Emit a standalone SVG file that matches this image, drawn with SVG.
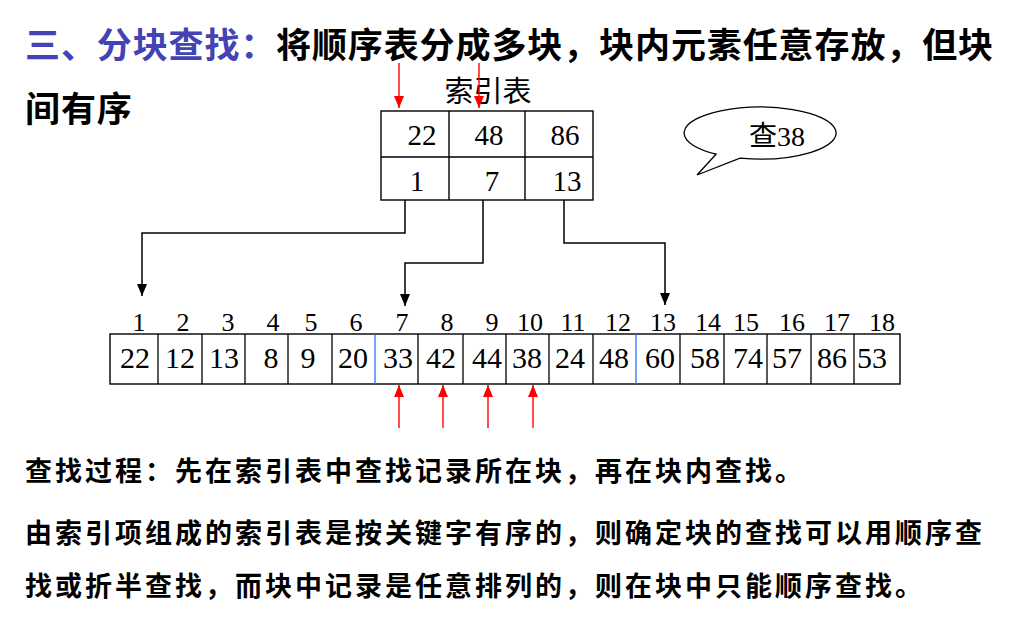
<svg xmlns="http://www.w3.org/2000/svg" width="1024" height="622" viewBox="0 0 1024 622">
<defs>
<marker id="ab" markerUnits="userSpaceOnUse" markerWidth="12" markerHeight="10" viewBox="0 0 12 10" refX="12" refY="5" orient="auto"><path d="M0,0 L12,5 L0,10 Z" fill="#000"/></marker>
<marker id="ar" markerUnits="userSpaceOnUse" markerWidth="12" markerHeight="10" viewBox="0 0 12 10" refX="12" refY="5" orient="auto"><path d="M0,0 L12,5 L0,10 Z" fill="#f00"/></marker>
<style>
.ttl{font-family:"Noto Sans CJK SC","Noto Sans",sans-serif;font-weight:bold;font-size:35px;letter-spacing:0.9px}
.body{font-family:"Noto Sans CJK SC","Noto Sans",sans-serif;font-weight:bold;font-size:27px;letter-spacing:3px;fill:#000}
.num{font-family:"Liberation Serif","Noto Sans CJK SC",serif;text-anchor:middle;fill:#000}
.cell{fill:#fff;stroke:#000;stroke-width:1.4}
.conn{fill:none;stroke:#000;stroke-width:1.5}
.red{fill:none;stroke:#f00;stroke-width:1.4}
</style>
</defs>
<rect width="1024" height="622" fill="#fff"/>

<g id="title">
<text class="ttl" x="25" y="58" fill="#4343B5">三、分块查找：</text>
<text class="ttl" x="276" y="58" fill="#000">将顺序表分成多块，块内元素任意存放，但块</text>
<text class="ttl" x="25" y="122" fill="#000">间有序</text>
</g>

<g id="index-table">
<text x="488" y="102" font-family="'Noto Sans CJK SC',sans-serif" font-size="29" text-anchor="middle" fill="#000">索引表</text>
<rect class="cell" x="381" y="111" width="212" height="89"/>
<line x1="381" y1="157" x2="593" y2="157" stroke="#000" stroke-width="1.4"/>
<line x1="449" y1="111" x2="449" y2="200" stroke="#000" stroke-width="1.4"/>
<line x1="525" y1="111" x2="525" y2="200" stroke="#000" stroke-width="1.4"/>
<g class="num" font-size="29">
<text x="422" y="145">22</text><text x="489" y="145">48</text><text x="565" y="145">86</text>
<text x="417" y="191">1</text><text x="492" y="191">7</text><text x="567" y="191">13</text>
</g>
</g>

<g id="bubble">
<path d="M716,154.2 L697,175 L740,158.1 A76,26 0 1 0 716,154.2 Z" fill="#fff" stroke="#000" stroke-width="1.3"/>
<text x="777" y="146" font-family="'Liberation Serif','Noto Sans CJK SC',serif" font-size="28" text-anchor="middle" fill="#000">查38</text>
</g>

<g id="array">
<rect class="cell" x="110" y="334" width="790" height="50"/>
<g stroke="#000" stroke-width="1.3">
<line x1="158" y1="334" x2="158" y2="384"/><line x1="202" y1="334" x2="202" y2="384"/>
<line x1="245" y1="334" x2="245" y2="384"/><line x1="288" y1="334" x2="288" y2="384"/>
<line x1="332" y1="334" x2="332" y2="384"/>
<line x1="418" y1="334" x2="418" y2="384"/><line x1="463" y1="334" x2="463" y2="384"/>
<line x1="506" y1="334" x2="506" y2="384"/><line x1="549" y1="334" x2="549" y2="384"/>
<line x1="593" y1="334" x2="593" y2="384"/>
<line x1="680" y1="334" x2="680" y2="384"/><line x1="724" y1="334" x2="724" y2="384"/>
<line x1="767" y1="334" x2="767" y2="384"/><line x1="811" y1="334" x2="811" y2="384"/>
<line x1="854" y1="334" x2="854" y2="384"/>
</g>
<g stroke="#3070f0" stroke-width="1.3">
<line x1="375" y1="334" x2="375" y2="384"/><line x1="636" y1="334" x2="636" y2="384"/>
</g>
<g class="num" font-size="30">
<text x="135" y="368">22</text><text x="180" y="368">12</text><text x="224" y="368">13</text>
<text x="271" y="368">8</text><text x="308" y="368">9</text><text x="353" y="368">20</text>
<text x="398" y="368">33</text><text x="441" y="368">42</text><text x="487" y="368">44</text>
<text x="527" y="368">38</text><text x="570" y="368">24</text><text x="614" y="368">48</text>
<text x="660" y="368">60</text><text x="705" y="368">58</text><text x="748" y="368">74</text>
<text x="787" y="368">57</text><text x="832" y="368">86</text><text x="872" y="368">53</text>
</g>
<g class="num" font-size="26">
<text x="139" y="331">1</text><text x="183" y="331">2</text><text x="228" y="331">3</text>
<text x="273" y="331">4</text><text x="311" y="331">5</text><text x="356" y="331">6</text>
<text x="402" y="331">7</text><text x="447" y="331">8</text><text x="492" y="331">9</text>
<text x="530" y="331">10</text><text x="573" y="331">11</text><text x="618" y="331">12</text>
<text x="663" y="331">13</text><text x="708" y="331">14</text><text x="746" y="331">15</text>
<text x="792" y="331">16</text><text x="837" y="331">17</text><text x="882" y="331">18</text>
</g>
</g>

<g id="connectors">
<path class="conn" d="M405,200 V233 H142 V296" marker-end="url(#ab)"/>
<path class="conn" d="M483,200 V263 H405 V306" marker-end="url(#ab)"/>
<path class="conn" d="M564,200 V243 H665 V305" marker-end="url(#ab)"/>
<line class="red" x1="399" y1="63" x2="399" y2="108" marker-end="url(#ar)"/>
<line class="red" x1="479" y1="63" x2="479" y2="108" marker-end="url(#ar)"/>
<line class="red" x1="399" y1="428" x2="399" y2="385" marker-end="url(#ar)"/>
<line class="red" x1="443" y1="428" x2="443" y2="385" marker-end="url(#ar)"/>
<line class="red" x1="488" y1="428" x2="488" y2="385" marker-end="url(#ar)"/>
<line class="red" x1="533" y1="428" x2="533" y2="385" marker-end="url(#ar)"/>
</g>

<g id="notes">
<text class="body" x="25" y="481">查找过程：先在索引表中查找记录所在块，再在块内查找。</text>
<text class="body" x="25" y="543">由索引项组成的索引表是按关键字有序的，则确定块的查找可以用顺序查</text>
<text class="body" x="25" y="596">找或折半查找，而块中记录是任意排列的，则在块中只能顺序查找。</text>
</g>
</svg>
